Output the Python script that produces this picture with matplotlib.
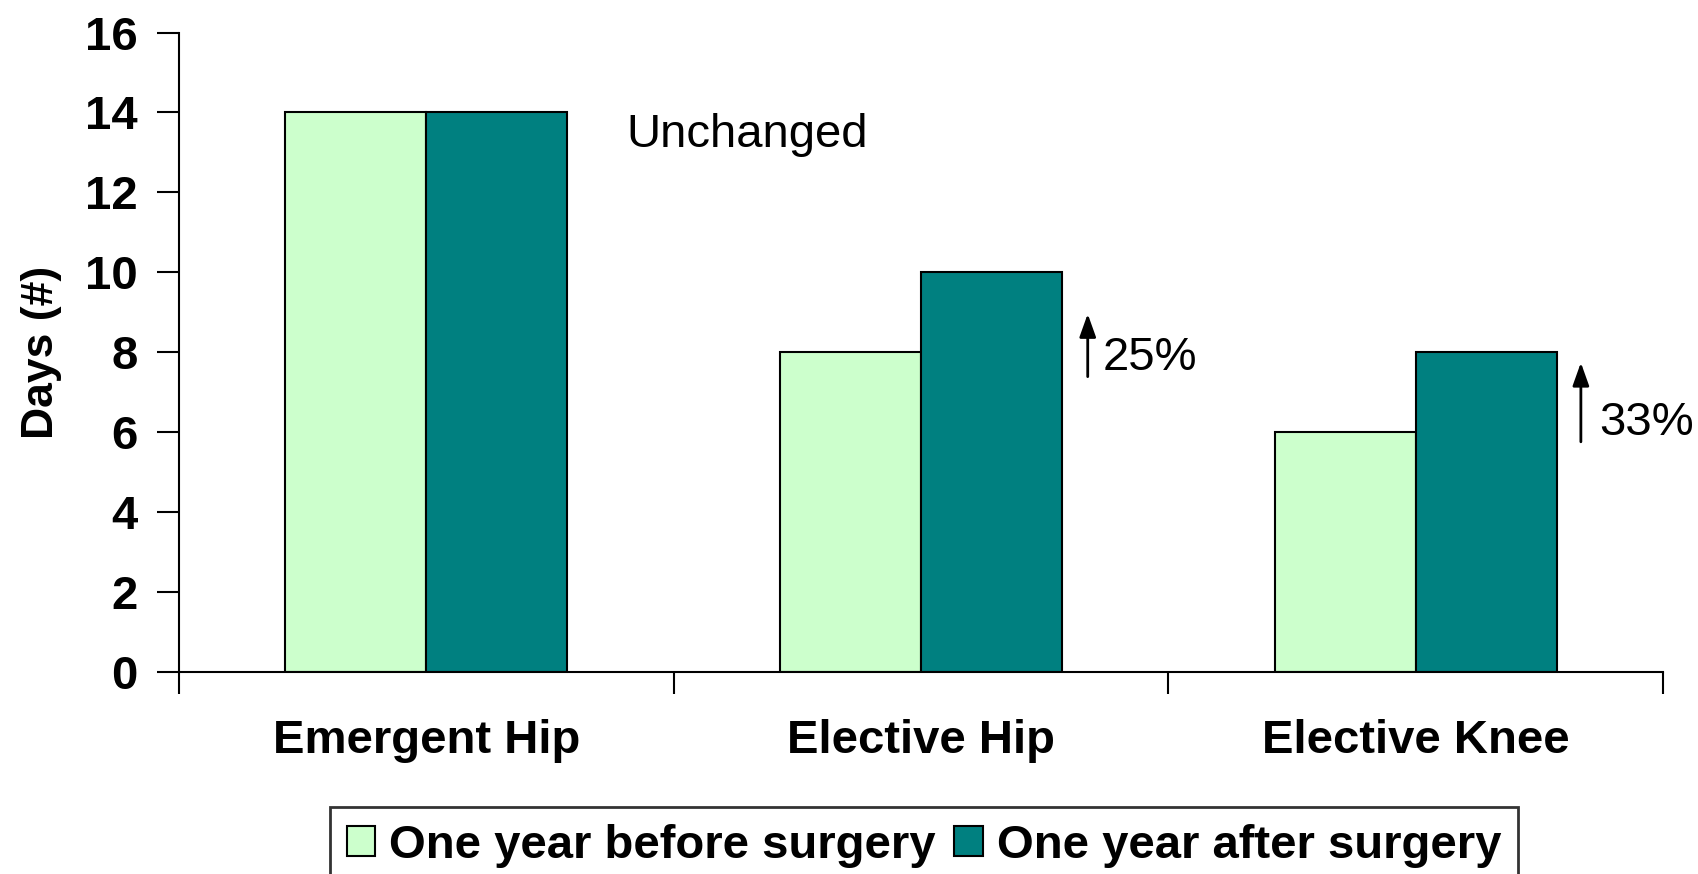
import matplotlib
matplotlib.use("Agg")
import matplotlib.pyplot as plt
import numpy as np

categories = ["Emergent Hip", "Elective Hip", "Elective Knee"]
before = [14, 8, 6]
after = [14, 10, 8]
series_labels = ["One year before surgery", "One year after surgery"]
yticks = [0, 2, 4, 6, 8, 10, 12, 14, 16]

plt.rcParams["font.family"] = ["Liberation Sans", "DejaVu Sans"]

fig = plt.figure(figsize=(16.99, 8.74), dpi=100)
ax = fig.add_axes([0.1054, 0.2311, 0.8734, 0.7317])

x = np.arange(len(categories))
w = 0.285
ax.bar(x - w / 2, before, w, color="#CCFFCC", edgecolor="black", linewidth=1.5,
       label=series_labels[0], zorder=2)
ax.bar(x + w / 2, after, w, color="#008080", edgecolor="black", linewidth=1.5,
       label=series_labels[1], zorder=2)

ax.set_xlim(-0.5, 2.5)
ax.set_ylim(0, 16)
ax.set_yticks(yticks)
ax.set_yticklabels([str(t) for t in yticks], fontsize=34, fontweight="bold")
ax.set_xticks(x)
ax.set_xticklabels(categories, fontsize=34, fontweight="bold")
ax.set_xticks([-0.5, 0.5, 1.5, 2.5], minor=True)
ax.tick_params(axis="x", which="major", length=0, pad=34)
ax.tick_params(axis="x", which="minor", length=16, width=1.5, direction="out")
ax.tick_params(axis="y", length=16, width=1.5, direction="out", pad=14)

for side in ["top", "right"]:
    ax.spines[side].set_visible(False)
ax.spines["left"].set_linewidth(1.5)
ax.spines["bottom"].set_linewidth(1.5)

ax.set_ylabel("Days (#)", fontsize=32, fontweight="bold", labelpad=16)

# annotations
ax.text(0.404, 13.13, "Unchanged", fontsize=34, ha="left", va="baseline")
arrow = dict(arrowstyle="-|>,head_length=0.7,head_width=0.25", color="black",
             lw=2, mutation_scale=20, shrinkA=0, shrinkB=0)
ax.annotate("", xy=(1.337, 8.96), xytext=(1.337, 7.39), arrowprops=arrow)
ax.text(1.368, 7.86, "25%", fontsize=34, ha="left", va="center")
ax.annotate("", xy=(2.334, 7.74), xytext=(2.334, 5.76), arrowprops=arrow)
ax.text(2.372, 6.23, "33%", fontsize=34, ha="left", va="center")

leg = fig.legend(loc="upper left", bbox_to_anchor=(330 / 1699, 1 - 807 / 874),
                 ncol=2, prop={"weight": "bold", "size": 34},
                 frameon=True, fancybox=False, handlelength=0.6, handleheight=0.6,
                 handletextpad=0.3, columnspacing=0.4, borderpad=0.35,
                 borderaxespad=0)
leg.get_frame().set_edgecolor("black")
leg.get_frame().set_linewidth(2)

fig.savefig("out.png", dpi=100)
